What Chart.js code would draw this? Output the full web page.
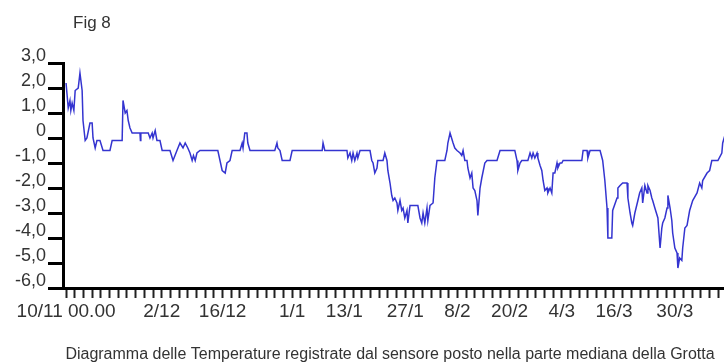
<!DOCTYPE html>
<html>
<head>
<meta charset="utf-8">
<script src="https://cdn.jsdelivr.net/npm/chart.js@4/dist/chart.umd.min.js"></script>
<style>
  body { margin: 0; background: #fff; }
</style>
</head>
<body>
<canvas id="fig8" width="724" height="364"></canvas>
<script>
// days since 10/11 00.00 and temperature (°C)
const days = [
  0, 0.5, 0.9, 1.1, 1.4, 1.8, 2.1, 2.8, 3.2, 3.7, 3.9, 4.4, 4.8, 5.5, 6.0, 6.2, 6.7, 7.1, 7.8, 8.5,
  10.1, 10.6, 12.9, 13.1, 13.6, 14.0, 14.3, 14.7, 15.2, 17.0, 17.1, 17.2, 18.9, 19.3, 19.8, 20.0, 20.5, 20.9, 21.6, 22.1,
  23.9, 24.6, 25.5, 26.2, 26.9, 27.4, 28.0, 28.5, 29.0, 29.3, 29.7, 30.1, 30.8, 34.9, 35.4, 35.9, 36.6, 37.0, 37.7, 38.2,
  40.0, 40.5, 40.7, 41.1, 41.6, 41.8, 42.3, 48.0, 48.5, 48.7, 49.2, 49.7, 51.5, 52.0, 58.9, 59.1, 59.5, 64.6, 64.8, 65.3,
  65.7, 66.0, 66.4, 66.9, 67.1, 67.6, 69.9, 70.3, 70.6, 71.0, 71.5, 71.7, 72.9, 73.3, 73.8, 74.0, 74.5, 74.9, 75.2, 75.6,
  76.1, 76.3, 76.8, 77.2, 77.5, 77.9, 78.4, 78.6, 79.1, 80.9, 81.4, 81.8, 82.1, 82.5, 83.0, 83.2, 83.7, 84.4, 84.8, 85.3,
  87.1, 87.6, 87.8, 88.3, 89.0, 89.4, 89.9, 90.6, 91.0, 91.3, 91.7, 92.2, 92.4, 92.9, 93.3, 93.6, 94.0, 94.5, 94.7, 95.2,
  95.6, 96.3, 96.8, 99.1, 99.8, 103.2, 103.7, 103.9, 104.4, 104.8, 106.2, 106.7, 107.1, 107.4, 107.8, 108.3, 108.5, 109.0, 109.4, 109.7,
  110.1, 110.6, 110.8, 111.3, 111.7, 112.0, 112.4, 112.9, 113.1, 113.6, 114.0, 114.3, 118.6, 118.9, 119.8, 120.0, 120.5, 122.8, 123.4, 123.9,
  124.4, 124.6, 125.5, 125.7, 126.7, 126.9, 127.4, 128.0, 129.0, 129.2, 129.7, 130.1, 130.3, 130.8, 131.5, 131.9, 132.4, 132.6, 133.1, 133.6,
  133.8, 134.3, 134.7, 134.9, 135.4, 136.1, 136.6, 137.0, 137.2, 137.7, 138.2, 138.4, 138.9, 139.3, 139.5, 140.0, 140.5, 140.7, 141.1, 141.6,
  141.8, 142.3, 142.8, 143.4, 144.1, 145.1, 145.7, 146.2, 146.4, 147.4, 148.0, 148.5, 149.9, 150.8, 151.0, 151.5
];
const temps = [
  2.2, 1.2, 1.5, 1.1, 1.4, 1.1, 1.9, 2.0, 2.6, 1.9, 0.7, -0.1, 0.0, 0.6, 0.6, 0.0, -0.4, -0.1, -0.1, -0.5,
  -0.5, -0.1, -0.1, 1.5, 1.0, 1.1, 0.7, 0.4, 0.2, 0.2, -0.1, 0.2, 0.2, 0.0, 0.2, 0.0, 0.3, -0.1, -0.1, -0.5,
  -0.5, -0.9, -0.5, -0.2, -0.4, -0.2, -0.4, -0.6, -0.9, -0.7, -0.9, -0.6, -0.5, -0.5, -0.9, -1.3, -1.4, -1.0, -0.9, -0.5,
  -0.5, -0.2, -0.4, 0.2, 0.2, -0.2, -0.5, -0.5, -0.2, -0.4, -0.5, -0.9, -0.9, -0.5, -0.5, -0.2, -0.5, -0.5, -0.8, -0.6,
  -0.9, -0.6, -0.9, -0.6, -0.8, -0.5, -0.5, -0.9, -1.0, -1.4, -1.2, -0.9, -0.9, -0.6, -0.9, -1.3, -1.8, -2.3, -2.5, -2.4,
  -2.6, -2.9, -2.5, -2.9, -2.8, -3.2, -2.9, -3.4, -2.7, -2.7, -3.2, -3.4, -3.0, -3.4, -2.8, -3.3, -2.7, -2.6, -1.6, -0.9,
  -0.9, -0.5, -0.2, 0.2, -0.2, -0.4, -0.5, -0.6, -0.7, -0.5, -0.9, -0.9, -1.2, -1.6, -1.4, -2.0, -2.1, -2.5, -3.1, -2.0,
  -1.6, -1.0, -0.9, -0.9, -0.5, -0.5, -0.9, -1.3, -1.0, -0.9, -0.9, -0.6, -0.8, -0.6, -0.8, -0.6, -0.8, -1.1, -1.3, -1.7,
  -2.1, -2.0, -2.2, -2.0, -2.2, -1.4, -1.4, -1.0, -1.2, -1.0, -1.0, -0.9, -0.9, -0.5, -0.5, -0.8, -0.5, -0.5, -0.9, -1.7,
  -2.8, -4.0, -4.0, -2.9, -2.4, -2.0, -1.9, -1.8, -1.8, -2.4, -3.0, -3.4, -3.5, -3.0, -2.5, -2.2, -2.0, -2.6, -1.9, -2.2,
  -1.9, -2.1, -2.4, -2.5, -2.8, -3.2, -4.4, -3.6, -3.4, -3.2, -2.8, -2.3, -2.8, -3.3, -3.8, -4.4, -4.6, -5.2, -4.8, -4.9,
  -4.4, -3.6, -3.5, -2.9, -2.5, -2.2, -1.8, -2.0, -1.7, -1.4, -1.3, -0.9, -0.9, -0.6, -0.2, 0.1
];

// category labels on the time axis (day offset, text)
const xLabelDays = [0, 22, 36, 52, 64, 78, 90, 102, 114, 126, 140];
const xLabelTexts = ['10/11 00.00', '2/12', '16/12', '1/1', '13/1', '27/1', '8/2', '20/2', '4/3', '16/3', '30/3'];

const yTicks = [3, 2, 1, 0, -1, -2, -3, -4, -5, -6];
const yLabels = ['3,0', '2,0', '1,0', '0', '-1,0', '-2,0', '-3,0', '-4,0', '-5,0', '-6,0'];

const captionText = 'Diagramma delle Temperature registrate dal sensore posto nella parte mediana della Grotta';
const fontFamily = '"Liberation Sans", Arial, sans-serif';
const textColor = '#333';

const texts = {
  id: 'texts',
  afterDraw(chart) {
    const ctx = chart.ctx;
    ctx.save();
    ctx.fillStyle = textColor;
    ctx.font = '17px ' + fontFamily;
    ctx.textAlign = 'left';
    ctx.fillText('Fig 8', 73, 28);
    ctx.font = '16px ' + fontFamily;
    ctx.textAlign = 'center';
    ctx.fillText(captionText, 390, 359);
    ctx.restore();
  }
};

new Chart(document.getElementById('fig8'), {
  type: 'line',
  data: {
    datasets: [{
      data: days.map((d, i) => ({ x: d, y: temps[i] })),
      borderColor: '#3434d0',
      borderWidth: 1.5,
      pointRadius: 0,
      tension: 0
    }]
  },
  options: {
    responsive: false,
    animation: false,
    layout: { padding: { top: 63, left: 0, right: 0, bottom: 36 } },
    plugins: {
      legend: { display: false },
      tooltip: { enabled: false }
    },
    scales: {
      x: {
        type: 'linear',
        min: -0.7,
        max: 151.3,
        afterBuildTicks: s => {
          const t = [];
          for (let d = 0; d <= 150; d += 2) t.push({ value: d });
          s.ticks = t;
        },
        afterFit: s => { s.height = 40; },
        ticks: {
          autoSkip: false,
          maxRotation: 0,
          minRotation: 0,
          padding: 2,
          color: textColor,
          font: { size: 19, family: fontFamily },
          callback: v => {
            const i = xLabelDays.indexOf(v);
            return i >= 0 ? xLabelTexts[i] : '';
          }
        },
        grid: { drawOnChartArea: false, tickLength: 10, tickWidth: 2, tickColor: '#222' },
        border: { color: '#000', width: 3 }
      },
      y: {
        min: -6,
        max: 3,
        afterBuildTicks: s => { s.ticks = yTicks.map(v => ({ value: v })); },
        afterFit: s => { s.width = 63; },
        ticks: {
          padding: 2,
          labelOffset: -7,
          color: textColor,
          font: { size: 18, family: fontFamily },
          callback: v => yLabels[yTicks.indexOf(v)]
        },
        grid: { drawOnChartArea: false, tickLength: 15, tickWidth: 3, tickColor: '#000' },
        border: { color: '#000', width: 3 }
      }
    }
  },
  plugins: [texts]
});
</script>
</body>
</html>
